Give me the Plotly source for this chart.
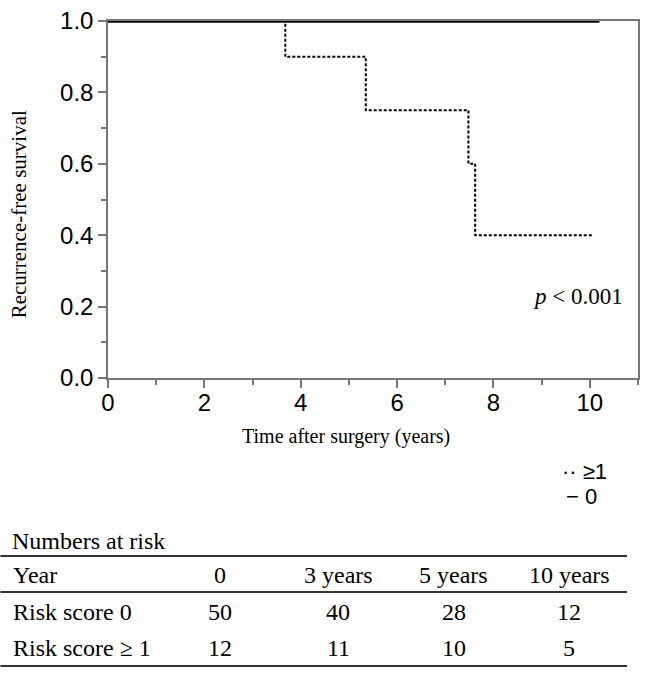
import plotly.graph_objects as go

# ---- data ----
time_score0 = [0, 10.2]
surv_score0 = [1.0, 1.0]
time_score1 = [0, 3.68, 5.35, 7.48, 7.62, 10.07]
surv_score1 = [1.0, 0.9, 0.75, 0.6, 0.4, 0.4]

table_cols = ["0", "3 years", "5 years", "10 years"]
risk0_counts = [50, 40, 28, 12]
risk1_counts = [12, 11, 10, 5]
row_labels = ["Risk score 0", "Risk score \u2265 1"]

W, H = 646, 684
L, R, T, B = 108, 640, 21, 378  # plot area in pixels

def px(x):
    return (x - L) / (R - L)

def py(y):
    return (B - y) / (B - T)

SERIF = "Liberation Serif, Times New Roman, serif"
SANS = "Liberation Sans, Arial, sans-serif"

fig = go.Figure()
fig.add_trace(go.Scatter(x=time_score1, y=surv_score1, mode="lines", line_shape="hv",
                         line=dict(color="black", width=2, dash="3px,2px"),
                         cliponaxis=False, showlegend=False))
fig.add_trace(go.Scatter(x=time_score0, y=surv_score0, mode="lines",
                         line=dict(color="black", width=3.5),
                         cliponaxis=False, showlegend=False))

axis_common = dict(showline=True, linecolor="#777", linewidth=1.5, mirror=True,
                   ticks="outside", ticklen=8, tickcolor="#777", tickwidth=1.5,
                   showgrid=False, zeroline=False,
                   tickfont=dict(family=SANS, size=24, color="black"))

fig.update_xaxes(range=[0, 11], dtick=2, tick0=0, ticklabelstandoff=-6,
                 minor=dict(ticks="outside", dtick=1, ticklen=5, tickcolor="#777", tickwidth=1.5),
                 **axis_common)
fig.update_yaxes(range=[0, 1], dtick=0.2, tick0=0, tickformat=".1f",
                 minor=dict(ticks="outside", dtick=0.1, ticklen=5, tickcolor="#777", tickwidth=1.5),
                 **axis_common)

def note(x, y, text, font, xanchor="center", **kw):
    return dict(x=px(x), y=py(y), xref="paper", yref="paper", text=text,
                xanchor=xanchor, yanchor="middle", showarrow=False, font=font, **kw)

serif24 = dict(family=SERIF, size=24, color="black")
ann = []
ann.append(note(347, 436, "Time after surgery (years)", dict(family=SERIF, size=20, color="black")))
ann.append(note(19, 214, "Recurrence-free survival", dict(family=SERIF, size=21, color="black"), textangle=-90))
ann.append(note(580, 296, "<i>p</i> < 0.001", dict(family=SERIF, size=23, color="black")))
ann.append(note(611, 471, "\u00b7\u00b7 \u22651", dict(family=SANS, size=22, color="black"), xanchor="right"))
ann.append(note(601, 496, "\u2212 0", dict(family=SANS, size=22, color="black"), xanchor="right"))

ann.append(note(10, 541, "Numbers at risk", serif24, xanchor="left"))
col_x = [220, 339, 455, 571]
ann.append(note(11, 575, "Year", serif24, xanchor="left"))
for cx, lab in zip(col_x, table_cols):
    ann.append(note(cx, 575, lab, serif24))
for ry, lab, vals in zip([612, 648], row_labels, [risk0_counts, risk1_counts]):
    ann.append(note(11, ry, lab, serif24, xanchor="left"))
    for cx, v in zip(col_x, vals):
        ann.append(note(cx, ry, str(v), serif24))

shapes = []
for ly, lw in [(556, 1.8), (592, 1.8), (666, 2)]:
    shapes.append(dict(type="line", xref="paper", yref="paper", x0=px(0), x1=px(629),
                       y0=py(ly), y1=py(ly), line=dict(color="#333", width=lw)))

fig.update_layout(width=W, height=H, margin=dict(l=L, r=W - R, t=T, b=H - B),
                  paper_bgcolor="white", plot_bgcolor="white",
                  annotations=ann, shapes=shapes, showlegend=False)

fig.write_html("out.html", config={"displayModeBar": False},
               post_script="document.body.style.margin='0';document.body.style.padding='0';")
